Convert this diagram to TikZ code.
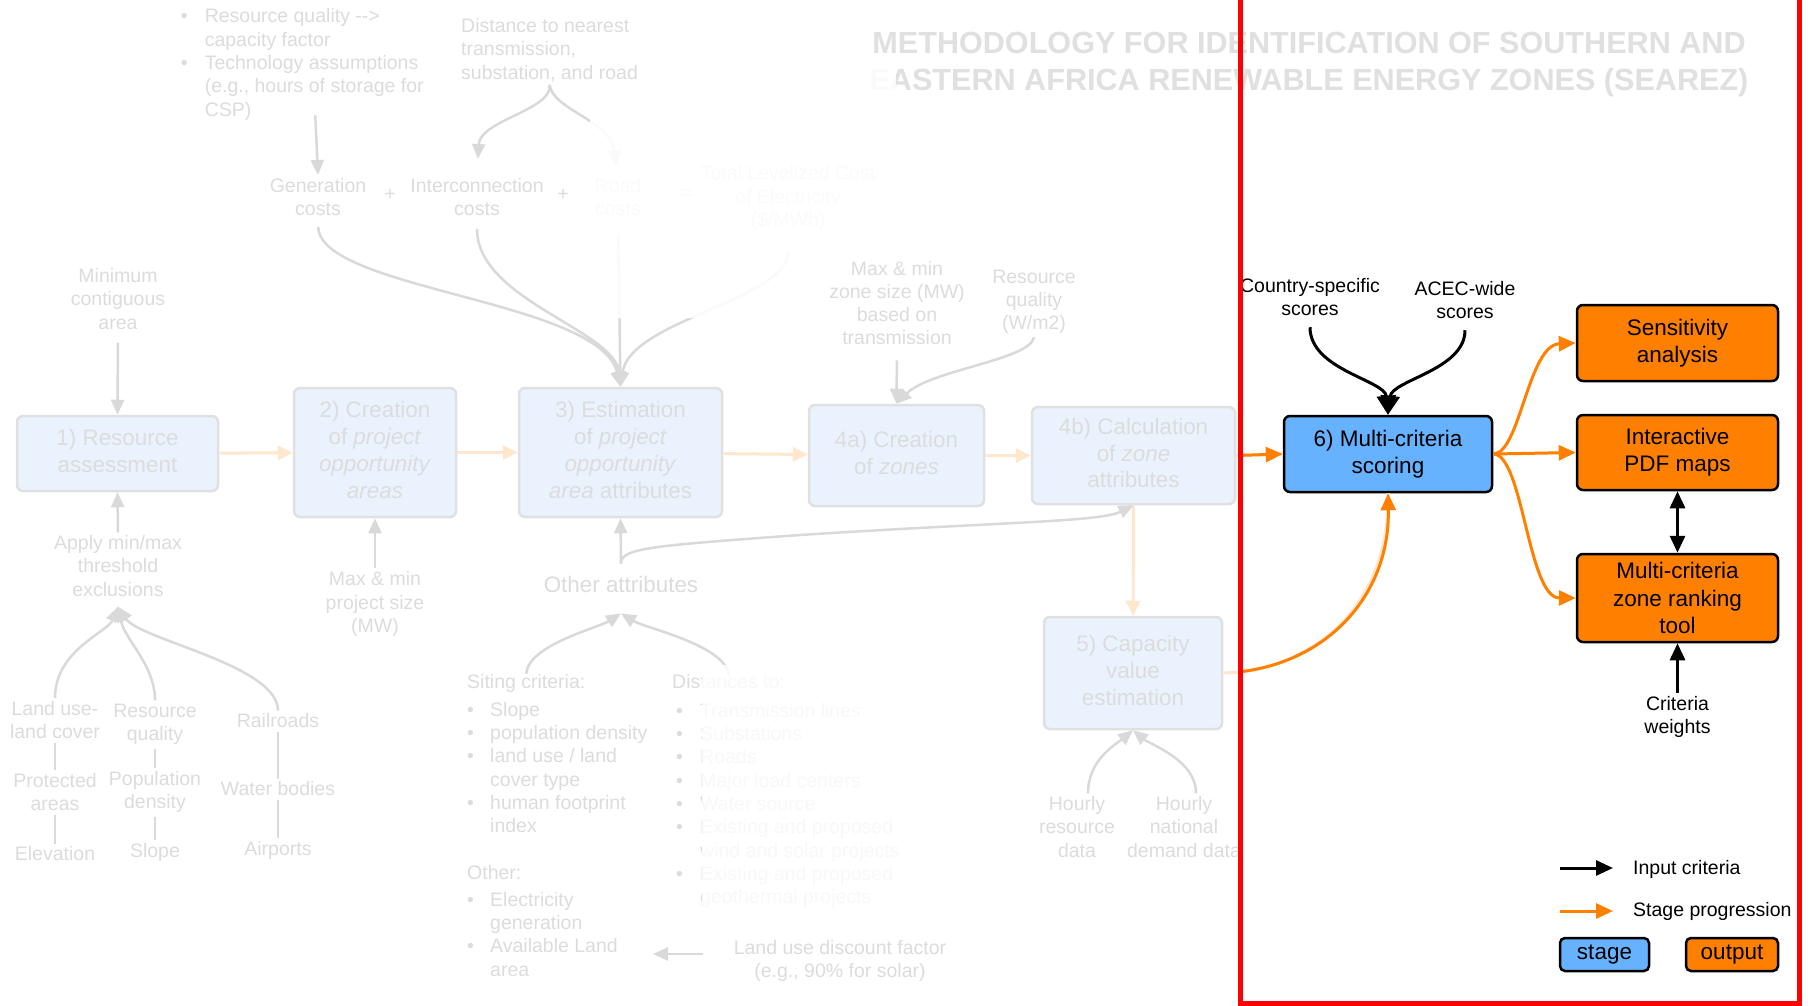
\documentclass[tikz,border=0pt]{standalone}
\usepackage{fontspec}
\setmainfont{Liberation Sans}
\usetikzlibrary{arrows.meta}
\definecolor{gtxt}{RGB}{220,220,220}
\definecolor{garr}{RGB}{217,217,217}
\definecolor{gbrd}{RGB}{224,224,224}
\definecolor{gfill}{RGB}{234,243,253}
\definecolor{fadeor}{RGB}{255,231,206}
\definecolor{orng}{RGB}{255,128,0}
\definecolor{sblue}{RGB}{102,178,255}
\definecolor{ttl}{RGB}{224,224,224}
\definecolor{frm}{RGB}{255,0,0}
\newcommand\myfs[2]{\fontsize{#1}{#2}\selectfont}
\newcommand\bul[2]{\makebox[#1][l]{\hspace{#2}•}}
\begin{document}
\begin{tikzpicture}[x=1pt,y=-1pt,
  gtext/.style={text=gtxt, font=\myfs{19.5}{23.3}, align=center, inner sep=3pt},
  gbox/.style={draw=gbrd, fill=gfill, line width=2.5pt, rounded corners=6pt, text=gtxt, font=\myfs{22.4}{26.8}, align=center, inner sep=0pt, text depth=5pt},
  obox/.style={draw=black, fill=orng, line width=2.5pt, rounded corners=6pt, font=\myfs{22.5}{27.3}, align=center, inner sep=0pt, minimum width=201pt},
  sbox/.style={obox, fill=sblue},
  btext/.style={font=\myfs{19.5}{23.8}, align=center, inner sep=3pt},
  garrow/.style={draw=garr, line width=2.5pt, -{Triangle[length=15pt,width=13pt]}},
  gline/.style={draw=garr, line width=2.5pt},
  tick/.style={gline, shorten <=1pt, shorten >=0pt},
  farrow/.style={draw=fadeor, line width=3pt, -{Triangle[length=15pt,width=14pt]}},
  oarrow/.style={draw=orng, line width=3pt, -{Triangle[length=17pt,width=15pt]}},
  barrow/.style={draw=black, line width=3pt, -{Triangle[length=17pt,width=15pt]}},
  bigbarrow/.style={draw=black, line width=3pt, -{Triangle[length=19pt,width=19pt]}},
]
\useasboundingbox (0,0) rectangle (1808,1006);
\fill[white] (0,0) rectangle (1808,1006);

% ---------- title
\node[text=ttl, font=\bfseries\myfs{30.6}{37.3}, align=center, inner sep=0pt] (title) at (1309,64.5)
  {METHODOLOGY FOR IDENTIFICATION OF SOUTHERN AND\\EASTERN AFRICA RENEWABLE ENERGY ZONES (SEAREZ)};

% ---------- faded stage boxes
\node[gbox, minimum width=201pt, minimum height=75pt] (b1) at (117.5,453.5) {1) Resource\\assessment};
\node[gbox, minimum width=162pt, minimum height=129pt] (b2) at (375,452.5) {2) Creation\\of \textit{project}\\\textit{opportunity}\\\textit{areas}};
\node[gbox, minimum width=203pt, minimum height=129pt] (b3) at (620.5,452.5) {3) Estimation\\of \textit{project}\\\textit{opportunity}\\\textit{area} attributes};
\node[gbox, minimum width=175pt, minimum height=101pt] (b4a) at (896.5,455.5) {4a) Creation\\of \textit{zones}};
\node[gbox, minimum width=203pt, minimum height=97pt] (b4b) at (1133.5,455.5) {4b) Calculation\\of \textit{zone}\\attributes};
\node[gbox, minimum width=178pt, minimum height=112pt] (b5) at (1133,673) {5) Capacity\\value\\estimation};

% ---------- faded texts
\node[gtext, anchor=north west, inner sep=0pt] (tl) at (180.6,6.4) {\begin{tabular}{@{}l@{}l@{}}
\bul{24pt}{0pt}&Resource quality -\kern0pt-\kern0pt>\\
&capacity factor\\
\bul{24pt}{0pt}&Technology assumptions\\
&(e.g., hours of storage for\\
&CSP)
\end{tabular}};
\node[gtext, anchor=west, align=left] (dist) at (458,50) {Distance to nearest\\transmission,\\substation, and road};
\node[gtext] (gen) at (318,197) {Generation\\costs};
\node[gtext] (plus1) at (390,195) {+};
\node[gtext] (inter) at (477,197) {Interconnection\\costs};
\node[gtext] (plus2) at (563,195) {+};
\node[gtext] (road) at (618,197) {Road\\costs};
\node[gtext] (eq) at (687,195) {=};
\node[gtext] (lcoe) at (788,198) {Total Levelized Cost\\of Electricity\\(\$/MWh)};

\node[gtext] (minarea) at (118,299) {Minimum\\contiguous\\area};
\node[gtext] (apply) at (118,566) {Apply min/max\\threshold\\exclusions};
\node[gtext] (landuse) at (55,720) {Land use-\\land cover};
\node[gtext] (resq) at (155,724) {Resource\\quality};
\node[gtext] (rail) at (278,721) {Railroads};
\node[gtext] (prot) at (55,792) {Protected\\areas};
\node[gtext] (popd) at (155,792) {Population\\density};
\node[gtext] (water) at (278,789) {Water bodies};
\node[gtext] (elev) at (55,854) {Elevation};
\node[gtext] (slope) at (155,852) {Slope};
\node[gtext] (airp) at (278,850) {Airports};

\node[gtext] (projsize) at (375,604) {Max \& min\\project size\\(MW)};
\node[gtext, font=\myfs{22.4}{26.8}, inner ysep=12pt] (other) at (621,584) {Other attributes};

\node[gtext, anchor=west, inner sep=0pt] (sitehead) at (467,683) {Siting criteria:};
\node[gtext, anchor=north west, inner sep=0pt] (sitelist) at (467,699.7) {\begin{tabular}{@{}l@{}l@{}}
\bul{23pt}{0pt}&Slope\\
\bul{23pt}{0pt}&population density\\
\bul{23pt}{0pt}&land use / land\\
&cover type\\
\bul{23pt}{0pt}&human footprint\\
&index
\end{tabular}};
\node[gtext, anchor=west, inner sep=0pt] (othhead) at (467,873) {Other:};
\node[gtext, anchor=north west, inner sep=0pt] (othlist) at (467,889.7) {\begin{tabular}{@{}l@{}l@{}}
\bul{23pt}{0pt}&Electricity\\
&generation\\
\bul{23pt}{0pt}&Available Land\\
&area
\end{tabular}};
\node[gtext, anchor=west, inner sep=0pt] (disthead) at (672,682) {Distances to:};
\node[gtext, anchor=north west, inner sep=0pt] (distlist) at (672,700.7) {\begin{tabular}{@{}l@{}l@{}}
\bul{28pt}{4pt}&Transmission lines\\
\bul{28pt}{4pt}&Substations\\
\bul{28pt}{4pt}&Roads\\
\bul{28pt}{4pt}&Major load centers\\
\bul{28pt}{4pt}&Water source\\
\bul{28pt}{4pt}&Existing and proposed\\
&wind and solar projects\\
\bul{28pt}{4pt}&Existing and proposed\\
&geothermal projects
\end{tabular}};
\node[gtext] (lud) at (840,961) {Land use discount factor\\(e.g., 90\% for solar)};
\coordinate (ludtip) at (653,954);

\node[gtext] (zonesize) at (897,303) {Max \& min\\zone size (MW)\\based on\\transmission};
\node[gtext] (resqw) at (1034,302) {Resource\\quality\\(W/m2)};
\node[gtext] (hr1) at (1077,827) {Hourly\\resource\\data};
\node[gtext] (hr2) at (1184,827) {Hourly\\national\\demand data};

% ---------- faded connectors
\draw[farrow] (b1) -- (b2);
\draw[farrow] (b2) -- (b3);
\draw[farrow] (b3) -- (b4a);
\draw[farrow] (b4a) -- (b4b);
\draw[farrow] (b4b) -- (b5);

\draw[garrow, shorten <=10pt] (minarea.south) -- (b1.north);
\draw[garrow] (apply.north) -- (b1.south);
\draw[garrow] (landuse.north) .. controls (55,650) and (108,632) .. ([yshift=-7pt]apply.south);
\draw[garrow] (resq.north) .. controls (155,665) and (125,640) .. ([yshift=-7pt]apply.south);
\draw[garrow] (rail.north) .. controls (278,665) and (140,640) .. ([yshift=-7pt]apply.south);
\draw[tick] (landuse) -- (prot);
\draw[tick] (prot) -- (elev);
\draw[tick] (resq) -- (popd);
\draw[tick] (popd) -- (slope);
\draw[tick] (rail) -- (water);
\draw[tick] (water) -- (airp);

\draw[garrow] (projsize.north) -- (b2.south);
\draw[garrow] (other.north) -- (b3.south);
\draw[garrow] (other.north) .. controls (621,548) and (650,546) .. (800,535) .. controls (1000,522) and (1100,522) .. (b4b.south);
\draw[garrow] (sitehead.north) .. controls (528,645) and (598,628) .. ([yshift=-9pt]other.south);
\draw[garrow] (disthead.north) .. controls (725,645) and (645,628) .. ([yshift=-9pt]other.south);

\draw[garrow] ([xshift=13pt,yshift=8pt]tl.south) -- (gen.north);
\draw[garrow, shorten >=16pt] (dist.south) .. controls (553,110) and (480,120) .. (inter.north);
\draw[garrow, shorten >=10pt] (dist.south) .. controls (553,110) and (610,120) .. (road.north);
\draw[garrow, shorten <=8pt] (gen.south) .. controls (320,290) and (600,300) .. (b3.north);
\draw[garrow, shorten <=10pt] (inter.south) .. controls (477,300) and (615,330) .. (b3.north);
\draw[garrow, shorten <=16pt] (road.south) -- (b3.north);
\draw[garrow, shorten <=18pt] (lcoe.south) .. controls (788,300) and (630,320) .. (b3.north);

\draw[garrow, shorten <=12pt] (zonesize.south) -- (b4a.north);
\draw[garrow] (resqw.south) .. controls (1030,360) and (930,370) .. (b4a.north);
\draw[garrow] ([xshift=11pt]hr1.north) .. controls (1088,760) and (1115,745) .. (b5.south);
\draw[garrow] ([xshift=12pt]hr2.north) .. controls (1196,760) and (1151,745) .. (b5.south);
\draw[garrow, shorten <=28pt] (lud.west |- ludtip) -- (ludtip);

% ---------- white veils (faded parts of the source)
\fill[white, opacity=0.88] (590,118) -- (905,118) -- (905,250) -- (815,250) -- (815,318) -- (590,318) -- cycle;
\fill[white, opacity=0.82] (702,665) rectangle (950,910);
\fill[white, opacity=0.85] (868,62) rectangle (896,98);

% ---------- highlighted part
\node[sbox, minimum width=208pt, minimum height=76pt] (b6) at (1388,454) {6) Multi-criteria\\scoring};
\node[obox, minimum height=76pt] (sens) at (1677.5,343) {Sensitivity\\analysis};
\node[obox, minimum height=75pt] (pdf) at (1677.5,452.5) {Interactive\\PDF maps};
\node[obox, minimum height=88pt] (rank) at (1677.5,598) {Multi-criteria\\zone ranking\\tool};
\node[btext] (country) at (1310,297) {Country-specific\\scores};
\node[btext] (acec) at (1465,300) {ACEC-wide\\scores};
\node[btext] (critw) at (1677.5,717) {Criteria\\weights};

\draw[draw=fadeor, line width=3pt] (b4b.east) -- (b6.west);
\draw[draw=fadeor, line width=3pt] (b5.east) .. controls (1320,670) and (1390,600) .. (b6.south);
\begin{scope}
\clip (1240,0) rectangle (1808,1006);
\draw[oarrow] (b4b.east) -- (b6.west);
\draw[oarrow] (b5.east) .. controls (1320,670) and (1390,600) .. (b6.south);
\end{scope}
\draw[oarrow] (b6.east) .. controls (1520,454) and (1528,345) .. (sens.west);
\draw[oarrow] (b6.east) -- (pdf.west);
\draw[oarrow] (b6.east) .. controls (1523,454) and (1528,598) .. (rank.west);
\draw[bigbarrow, shorten <=8pt] (country.south) .. controls (1310,370) and (1385,380) .. (b6.north);
\draw[bigbarrow, shorten <=8pt] (acec.south) .. controls (1465,370) and (1392,380) .. (b6.north);
\draw[draw=black, line width=3pt, {Triangle[length=17pt,width=15pt]}-{Triangle[length=17pt,width=15pt]}] (pdf.south) -- (rank.north);
\draw[barrow] (critw.north) -- (rank.south);

% ---------- legend
\coordinate (lgA1) at (1560,868); \coordinate (lgA2) at (1613,868);
\coordinate (lgB1) at (1560,911); \coordinate (lgB2) at (1613,911);
\node[btext, anchor=west, inner sep=0pt] (lgin) at (1633,869) {Input criteria};
\node[btext, anchor=west, inner sep=0pt] (lgst) at (1633,911) {Stage progression};
\draw[barrow] (lgA1) -- (lgA2);
\draw[oarrow] (lgB1) -- (lgB2);
\node[sbox, minimum width=89pt, minimum height=33pt, rounded corners=5pt] (lgstage) at (1604.5,954.5) {stage};
\node[obox, minimum width=92pt, minimum height=33pt, rounded corners=5pt] (lgout) at (1732,954.5) {output};

% ---------- red frame
\draw[frm, line width=5pt] (1240,0) -- (1240,1003.5) -- (1799.5,1003.5) -- (1799.5,0);
\end{tikzpicture}
\end{document}
